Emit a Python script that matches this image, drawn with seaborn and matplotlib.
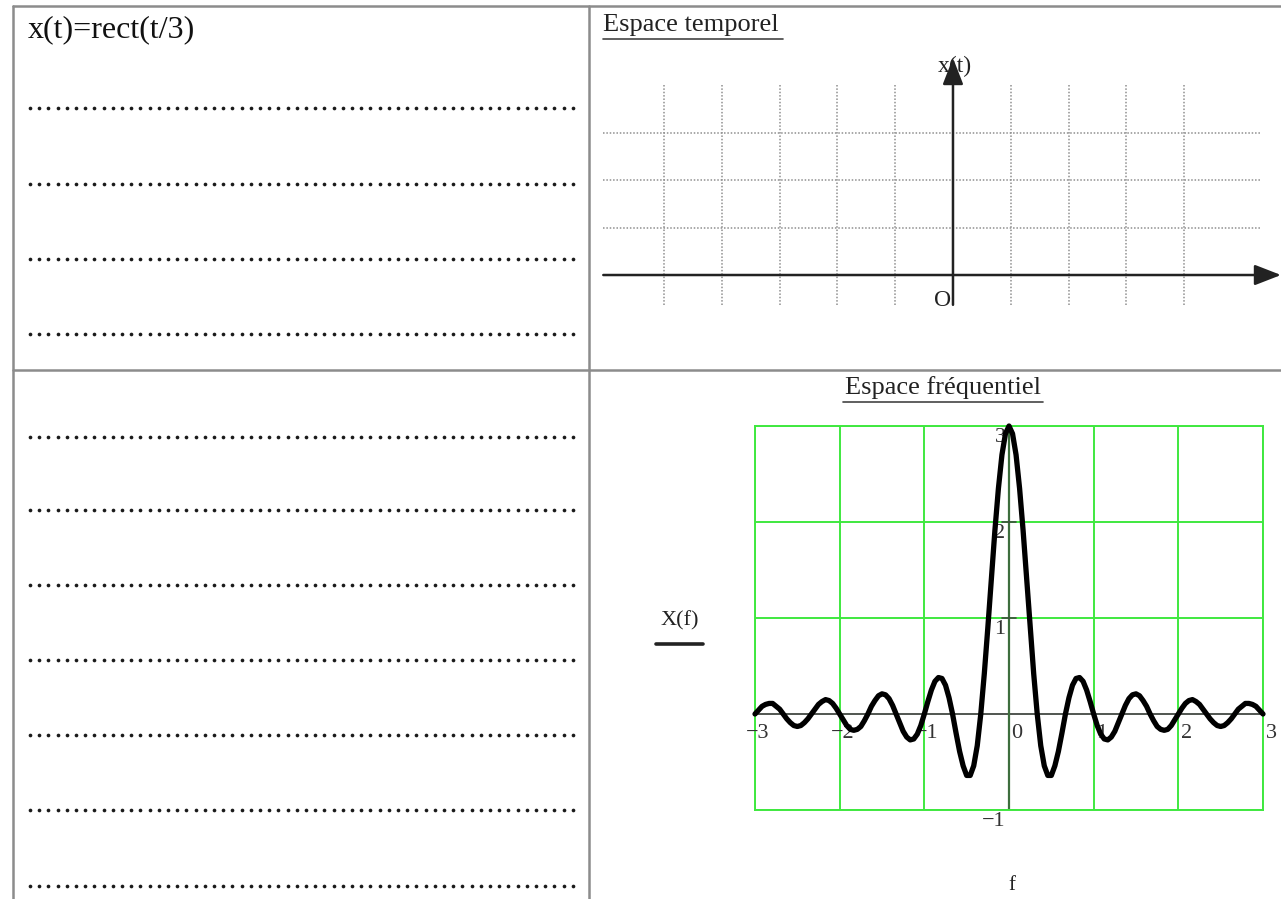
import numpy as np
import pandas as pd
import matplotlib.pyplot as plt
import seaborn as sns

# Spectrum X(f), f from -3 to 3 in steps of 1/24
freq = np.linspace(-3, 3, 145)
spectrum_neg = [
    0.00, 0.04, 0.08, 0.10, 0.11, 0.11, 0.08, 0.05,
    0.00, -0.05, -0.09, -0.12, -0.13, -0.12, -0.09, -0.05,
    0.00, 0.05, 0.10, 0.13, 0.15, 0.14, 0.11, 0.06,
    0.00, -0.06, -0.12, -0.16, -0.17, -0.16, -0.13, -0.07,
    0.00, 0.08, 0.14, 0.19, 0.21, 0.20, 0.16, 0.09,
    0.00, -0.09, -0.18, -0.24, -0.27, -0.26, -0.21, -0.12,
    0.00, 0.13, 0.25, 0.34, 0.38, 0.37, 0.30, 0.17,
    0.00, -0.20, -0.39, -0.54, -0.64, -0.64, -0.54, -0.33,
    0.00, 0.42, 0.90, 1.41, 1.91, 2.35, 2.70, 2.92,
]
spectrum_pos = [
    3.00, 2.92, 2.70, 2.35, 1.91, 1.41, 0.90, 0.42,
    0.00, -0.33, -0.54, -0.64, -0.64, -0.54, -0.39, -0.20,
    0.00, 0.17, 0.30, 0.37, 0.38, 0.34, 0.25, 0.13,
    0.00, -0.12, -0.21, -0.26, -0.27, -0.24, -0.18, -0.09,
    0.00, 0.09, 0.16, 0.20, 0.21, 0.19, 0.14, 0.08,
    0.00, -0.07, -0.13, -0.16, -0.17, -0.16, -0.12, -0.06,
    0.00, 0.06, 0.11, 0.14, 0.15, 0.13, 0.10, 0.05,
    0.00, -0.05, -0.09, -0.12, -0.13, -0.12, -0.09, -0.05,
    0.00, 0.05, 0.08, 0.11, 0.11, 0.10, 0.08, 0.04,
    0.00,
]
f_ticks = [-3, -2, -1, 0, 1, 2, 3]
x_ticks = [-1, 1, 2, 3]
t_grid = [-5, -4, -3, -2, -1, 1, 2, 3, 4]
amp_grid = [1, 2, 3]

sns.set_theme(style="white")
plt.rcParams['font.family'] = ['Liberation Serif', 'DejaVu Serif']

fig = plt.figure(figsize=(12.81, 8.99), dpi=100)

# page layer in pixel units for the table and the texts
bg = fig.add_axes([0, 0, 1, 1])
bg.set_xlim(0, 1281)
bg.set_ylim(899, 0)
bg.axis('off')

border = '#8c8c8c'
bg.plot([13, 13], [6, 899], color=border, lw=1.8)
bg.plot([13, 1281], [6, 6], color=border, lw=1.8)
bg.plot([589, 589], [6, 899], color=border, lw=1.8)
bg.plot([13, 1281], [370, 370], color=border, lw=1.8)

# dotted answer lines
dots_x = np.arange(30, 573, 9.2)
for y in [108, 184, 259, 334, 437, 510, 585, 660, 735, 810, 886]:
    bg.scatter(dots_x, np.full(len(dots_x), y), s=7, color='#1a1a1a', linewidths=0)

bg.text(28, 30, "x(t)=rect(t/3)", fontsize=23, va='center', ha='left', color='#111111')
bg.text(603, 25, "Espace temporel", fontsize=19, va='center', ha='left', color='#222222')
bg.plot([603, 783], [39, 39], color='#444444', lw=1.2)
bg.text(943, 388, "Espace fréquentiel", fontsize=19, va='center', ha='center', color='#222222')
bg.plot([843, 1043], [402, 402], color='#444444', lw=1.2)
bg.text(955, 66, "x(t)", fontsize=17, va='center', ha='center', color='#222222')
bg.text(943, 300, "O", fontsize=17, va='center', ha='center', color='#222222')
bg.text(680, 621, "X(f)", fontsize=16, va='center', ha='center', color='#222222')
bg.plot([656, 703], [644, 644], color='#222222', lw=2.6)
bg.text(1012, 886, "f", fontsize=15, va='center', ha='center', color='#222222')

# time space: empty grid with arrows
ta = fig.add_axes([603 / 1281, (899 - 305) / 899, (1281 - 603) / 1281, 247 / 899])
ta.set_xlim(-6.055, 5.675)
ta.set_ylim(-0.634, 4.588)
ta.axis('off')
for t in t_grid:
    ta.plot([t, t], [-0.63, 4.02], color='#8f8f8f', lw=1.1, ls=(0, (1, 1.2)))
for a in amp_grid:
    ta.plot([-6.05, 5.31], [a, a], color='#8f8f8f', lw=1.1, ls=(0, (1, 1.2)))
arrow = dict(arrowstyle='-|>,head_length=0.9,head_width=0.35', mutation_scale=18,
             lw=1.8, color='#222222', shrinkA=0, shrinkB=0)
ta.annotate("", xy=(5.675, 0), xytext=(-6.05, 0), arrowprops=arrow, annotation_clip=False)
ta.annotate("", xy=(0, 4.588), xytext=(0, -0.63), arrowprops=arrow, annotation_clip=False)

# frequency space
fa = fig.add_axes([755 / 1281, (899 - 810) / 899, 508 / 1281, 384 / 899])
fa.set_xlim(-3, 3)
fa.set_ylim(-1, 3)
green = '#3fe83f'
for s in fa.spines.values():
    s.set_color(green)
    s.set_linewidth(1.4)
fa.set_xticks(f_ticks)
fa.set_yticks([-1, 0, 1, 2, 3])
fa.tick_params(length=0, labelbottom=False, labelleft=False)
fa.grid(True, color=green, lw=1.4)
fa.set_facecolor('none')
fa.axhline(0, color='#555555', lw=1.4)
fa.axvline(0, color='#3d6e3d', lw=1.6)
for v in x_ticks:
    fa.plot([-0.08, 0.08], [v, v], color='#3d4d3d', lw=1.2)

df = pd.DataFrame({'f': freq, 'X': spectrum_neg + spectrum_pos})
sns.lineplot(data=df, x='f', y='X', ax=fa, color='black', lw=3.8, clip_on=False,
             solid_joinstyle='round', solid_capstyle='round', zorder=5)
fa.set_xlabel('')
fa.set_ylabel('')

for v in f_ticks:
    if v < 0:
        fa.text(v + 0.03, -0.2, "−%d" % -v, fontsize=16, ha='center', va='center', color='#333333')
    else:
        fa.text(v + 0.03, -0.2, "%d" % v, fontsize=16, ha='left', va='center', color='#333333')
for v in x_ticks:
    lab = "−%d" % -v if v < 0 else "%d" % v
    fa.text(-0.04, v - 0.12, lab, fontsize=16, ha='right', va='center', color='#333333', zorder=1)

fig.savefig('out.png', dpi=100)
